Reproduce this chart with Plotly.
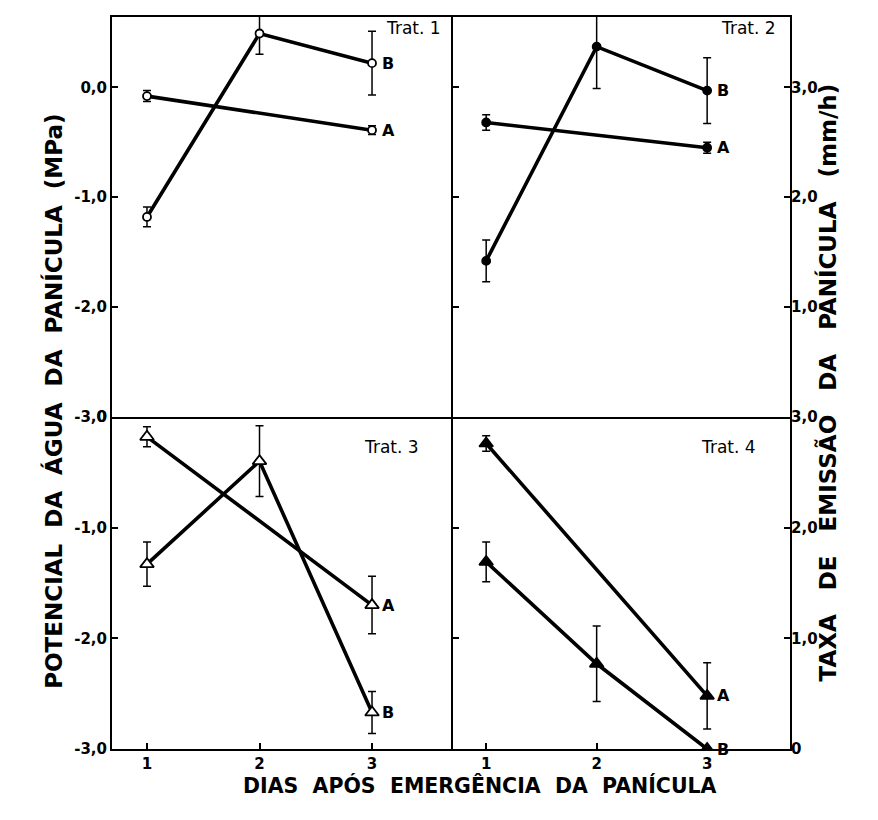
import plotly.graph_objects as go

# ---------------- data ----------------
DAYS_A = [1, 3]
DAYS_B = [1, 2, 3]

# A: potencial da água da panícula (MPa) -> left axis
T1_A = [-0.08, -0.39]
T1_A_ERR = [0.05, 0.04]
T2_A = [-0.32, -0.55]
T2_A_ERR = [0.07, 0.05]
T3_A = [-0.18, -1.70]
T3_A_ERR = [0.09, 0.26]
T4_A = [-0.24, -2.52]
T4_A_ERR = [0.07, 0.30]

# B: taxa de emissão da panícula (mm/h) -> right axis
T1_B = [1.82, 3.49, 3.22]
T1_B_ERR = [0.09, 0.19, 0.29]
T2_B = [1.42, 3.37, 2.97]
T2_B_ERR = [0.19, 0.38, 0.30]
T3_B = [1.67, 2.60, 0.33]
T3_B_ERR = [0.20, 0.32, 0.19]
T4_B = [1.69, 0.77, 0.00]
T4_B_ERR = [0.18, 0.34, 0.0]

TRAT_LABELS = ["Trat. 1", "Trat. 2", "Trat. 3", "Trat. 4"]
SERIES_LABELS = ["A", "B"]

X_TICKS = [1, 2, 3]
X_TICKTEXT = ["1", "2", "3"]
LEFT_TOP_TICKS = [0, -1, -2, -3]
LEFT_TOP_TEXT = ["0,0", "-1,0", "-2,0", "-3,0"]
LEFT_BOT_TICKS = [0, -1, -2, -3]
LEFT_BOT_TEXT = ["0", "-1,0", "-2,0", "-3,0"]
RIGHT_TOP_TICKS = [3, 2, 1]
RIGHT_TOP_TEXT = ["3,0", "2,0", "1,0"]
RIGHT_BOT_TICKS = [3, 2, 1, 0]
RIGHT_BOT_TEXT = ["3,0", "2,0", "1,0", "0"]

Y_LEFT_TITLE = "\u00a0\u00a0".join(["POTENCIAL", "DA", "ÁGUA", "DA", "PANÍCULA", "(MPa)"])
Y_RIGHT_TITLE = "\u00a0\u00a0\u00a0".join(["TAXA", "DE", "EMISSÃO", "DA", "PANÍCULA", "(mm/h)"])
X_TITLE = "\u00a0\u00a0".join(["DIAS", "APÓS", "EMERGÊNCIA", "DA", "PANÍCULA"])

# ---------------- style / layout ----------------
FONT = "DejaVu Sans"
RATE_OFFSET = 3.0          # right axis = left axis + 3
TOP_RANGE = [-3.0, 0.64]
BOT_RANGE = [-3.0, 0.0]
XL_RANGE = [0.689, 3.72]
XR_RANGE = [0.70, 3.75]
XSPLIT = 0.503
YSPLIT = 0.4537
LW = 3.6

fig = go.Figure()

panels = [
    # (xaxis, yaxisA, yaxisB, A, Aerr, B, Berr, marker_symbol, open)
    ("x", "y", "y5", T1_A, T1_A_ERR, T1_B, T1_B_ERR, "circle", True),
    ("x2", "y2", "y6", T2_A, T2_A_ERR, T2_B, T2_B_ERR, "circle", False),
    ("x3", "y3", "y7", T3_A, T3_A_ERR, T3_B, T3_B_ERR, "triangle-up", True),
    ("x4", "y4", "y8", T4_A, T4_A_ERR, T4_B, T4_B_ERR, "triangle-up", False),
]

for xa, ya, yb, a, aerr, b, berr, sym, is_open in panels:
    msize = 12 if sym.startswith("triangle") else 8
    marker = dict(symbol=sym, size=msize, color="white" if is_open else "black",
                  line=dict(color="black", width=1.8))
    for xs, ys, errs, yax in ((DAYS_A, a, aerr, ya), (DAYS_B, b, berr, yb)):
        fig.add_trace(go.Scatter(
            x=xs, y=ys, xaxis=xa, yaxis=yax, mode="lines+markers",
            line=dict(color="black", width=LW),
            marker=marker,
            error_y=dict(type="data", array=errs, visible=True, color="black",
                         thickness=1.5, width=4),
            showlegend=False, hoverinfo="skip",
        ))

tickfont = dict(family=FONT, size=15, color="black", weight="bold")
axis_common = dict(showline=True, linecolor="black", linewidth=2, showgrid=False,
                   zeroline=False, tickcolor="black", ticklen=6, tickwidth=1.5,
                   tickfont=tickfont)

layout = dict(
    width=862, height=804,
    margin=dict(l=104, r=80, t=0, b=63),
    paper_bgcolor="white", plot_bgcolor="white",
    font=dict(family=FONT, color="black"),
    showlegend=False,
)

# x axes
layout["xaxis"] = dict(axis_common, domain=[0, XSPLIT], anchor="y", range=XL_RANGE,
                       mirror=True, ticks="", showticklabels=False)
layout["xaxis2"] = dict(axis_common, domain=[XSPLIT, 1], anchor="y2", range=XR_RANGE,
                        mirror=True, ticks="", showticklabels=False)
layout["xaxis3"] = dict(axis_common, domain=[0, XSPLIT], anchor="y3", range=XL_RANGE,
                        mirror=False, ticks="inside", tickvals=X_TICKS, ticktext=X_TICKTEXT)
layout["xaxis4"] = dict(axis_common, domain=[XSPLIT, 1], anchor="y4", range=XR_RANGE,
                        mirror=False, ticks="inside", tickvals=X_TICKS, ticktext=X_TICKTEXT)

# left (potential) axes
layout["yaxis"] = dict(axis_common, domain=[YSPLIT, 1], anchor="x", range=TOP_RANGE,
                       mirror=False, ticks="inside", tickvals=LEFT_TOP_TICKS,
                       ticktext=LEFT_TOP_TEXT)
layout["yaxis2"] = dict(axis_common, domain=[YSPLIT, 1], anchor="x2", range=TOP_RANGE,
                        mirror=True, ticks="inside", tickvals=LEFT_TOP_TICKS,
                        showticklabels=False)
layout["yaxis3"] = dict(axis_common, domain=[0, YSPLIT], anchor="x3", range=BOT_RANGE,
                        mirror=False, ticks="inside", tickvals=LEFT_BOT_TICKS,
                        ticktext=LEFT_BOT_TEXT)
layout["yaxis4"] = dict(axis_common, domain=[0, YSPLIT], anchor="x4", range=BOT_RANGE,
                        mirror=True, ticks="inside", tickvals=LEFT_BOT_TICKS,
                        showticklabels=False)

# rate axes (overlay)
top_rate = [TOP_RANGE[0] + RATE_OFFSET, TOP_RANGE[1] + RATE_OFFSET]
bot_rate = [BOT_RANGE[0] + RATE_OFFSET, BOT_RANGE[1] + RATE_OFFSET]
layout["yaxis5"] = dict(overlaying="y", anchor="x", range=top_rate, visible=False)
layout["yaxis7"] = dict(overlaying="y3", anchor="x3", range=bot_rate, visible=False)
layout["yaxis6"] = dict(axis_common, overlaying="y2", anchor="x2", side="right",
                        range=top_rate, showline=False, ticks="inside",
                        tickvals=RIGHT_TOP_TICKS, ticktext=RIGHT_TOP_TEXT)
layout["yaxis8"] = dict(axis_common, overlaying="y4", anchor="x4", side="right",
                        range=bot_rate, showline=False, ticks="inside",
                        tickvals=RIGHT_BOT_TICKS, ticktext=RIGHT_BOT_TEXT)

fig.update_layout(**layout)

ann = []
# panel labels: (x in domain, y in domain)
trat_pos = [(0.97, 0.972), (0.965, 0.972), (0.906, 0.91), (0.906, 0.91)]
for (xa, ya, *_), lab, (px, py) in zip(panels, TRAT_LABELS, trat_pos):
    xn = xa.replace("x", "")
    yn = ya.replace("y", "")
    ann.append(dict(text=lab, xref=f"x{xn} domain", yref=f"y{yn} domain",
                    x=px, y=py, xanchor="right", yanchor="middle", showarrow=False,
                    font=dict(family=FONT, size=17, color="black")))
# series labels at last points
lab_font = dict(family=FONT, size=16, color="black", weight="bold")
for xa, ya, yb, a, aerr, b, berr, sym, is_open in panels:
    ann.append(dict(text=SERIES_LABELS[0], xref=xa, yref=ya, x=DAYS_A[-1], y=a[-1],
                    xanchor="left", yanchor="middle", xshift=8, showarrow=False,
                    font=lab_font))
    ann.append(dict(text=SERIES_LABELS[1], xref=xa, yref=yb, x=DAYS_B[-1], y=b[-1],
                    xanchor="left", yanchor="middle", xshift=8, showarrow=False,
                    font=lab_font))

# axis titles
title_font = dict(family=FONT, size=23, color="black", weight="bold")
ann.append(dict(text=Y_LEFT_TITLE, xref="paper", yref="paper", x=0, y=0.475,
                xshift=-74, textangle=-90, showarrow=False, font=title_font))
ann.append(dict(text=Y_RIGHT_TITLE, xref="paper", yref="paper", x=1, y=0.50,
                xshift=52, textangle=-90, showarrow=False, font=title_font))
ann.append(dict(text=X_TITLE, xref="paper", yref="paper", x=0.543, y=0,
                yshift=-51, showarrow=False,
                font=dict(family=FONT, size=20.5, color="black", weight="bold")))
fig.update_layout(annotations=ann)

fig.write_html("out.html")
